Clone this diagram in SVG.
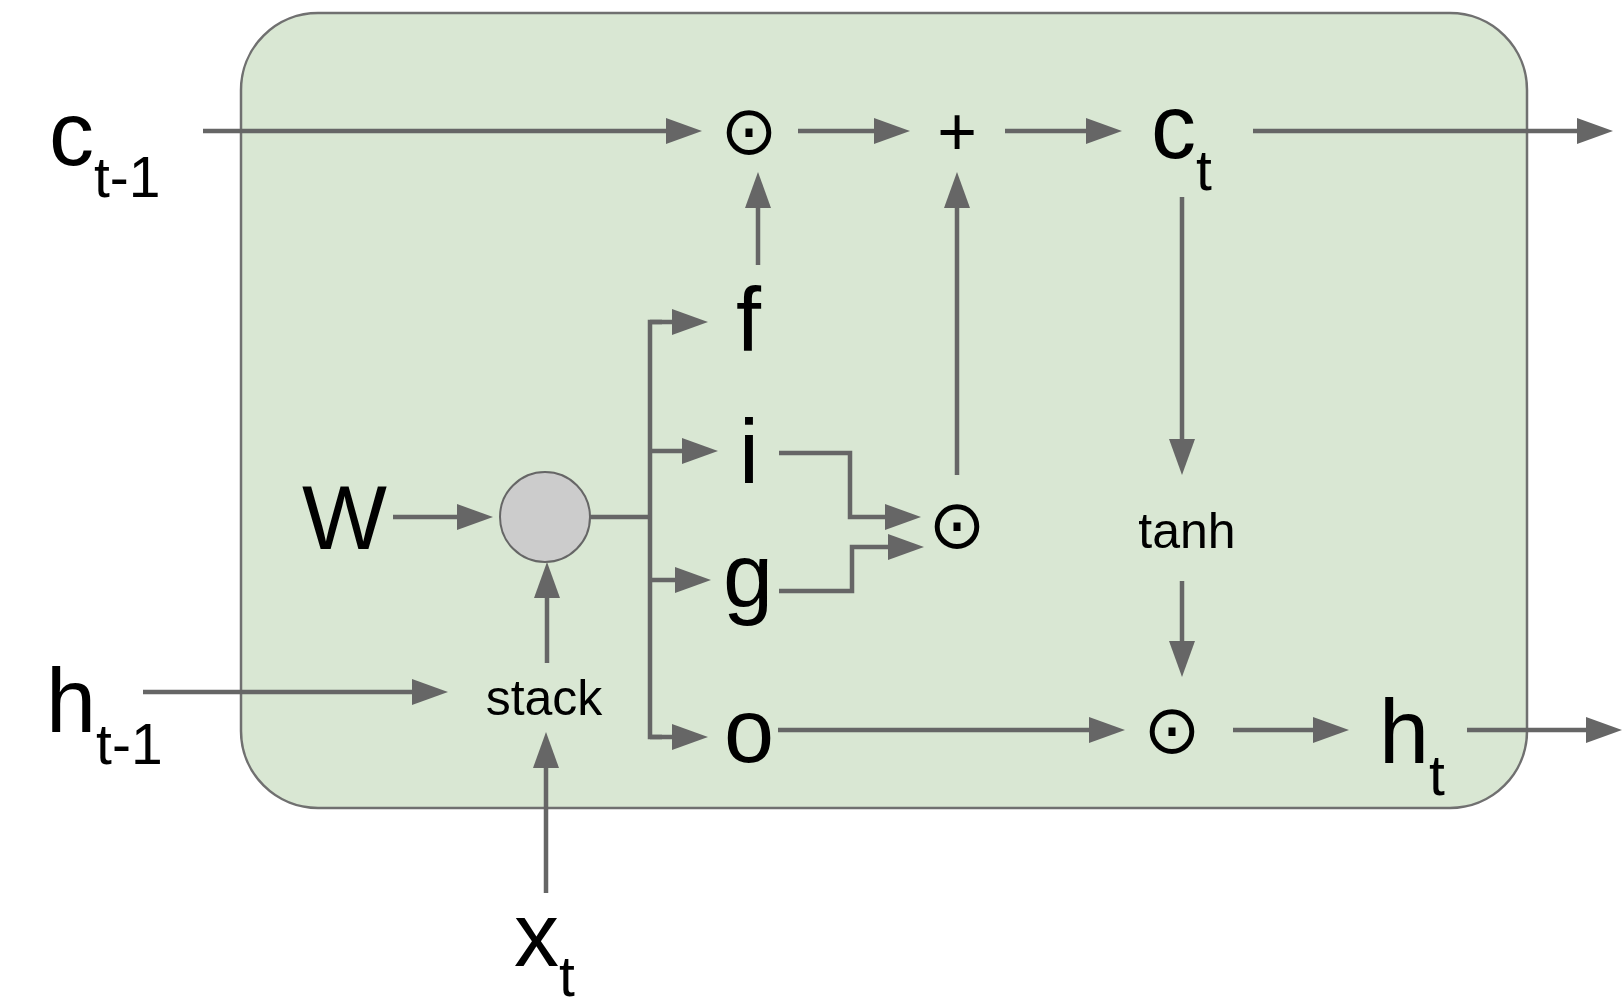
<svg xmlns="http://www.w3.org/2000/svg" width="1624" height="1000" viewBox="0 0 1624 1000">
<defs>
<marker id="ah" markerUnits="userSpaceOnUse" markerWidth="38" markerHeight="28" refX="15" refY="13" orient="auto">
<path d="M0,0 L36,13 L0,26 z" fill="#666666"/>
</marker>
<style>
.lbl{font-family:"Liberation Sans",Arial,sans-serif;font-size:90px;fill:#000}
.sub{font-size:57px}
.sm{font-family:"Liberation Sans",Arial,sans-serif;font-size:50px;fill:#000;text-anchor:middle}
.op{font-family:"DejaVu Sans",sans-serif;font-size:68px;fill:#000;text-anchor:middle}
.plus{font-family:"Liberation Sans",Arial,sans-serif;font-size:68px;fill:#000;text-anchor:middle}
.c{stroke:#666666;stroke-width:4.5;fill:none}
.a{marker-end:url(#ah)}
</style>
</defs>
<rect id="cell" x="241" y="13" width="1286" height="795" rx="77" ry="77" fill="#d9e7d3" stroke="#707070" stroke-width="2.5"/>
<g id="connectors">
<line class="c a" x1="203" y1="131" x2="681" y2="131"/>
<line class="c a" x1="798" y1="131" x2="889" y2="131"/>
<line class="c a" x1="1005" y1="131" x2="1101" y2="131"/>
<line class="c a" x1="1253" y1="131" x2="1592" y2="131"/>
<line class="c a" x1="758" y1="265" x2="758" y2="193"/>
<line class="c a" x1="957" y1="475" x2="957" y2="193"/>
<line class="c a" x1="1182" y1="197" x2="1182" y2="454"/>
<line class="c a" x1="1182" y1="581" x2="1182" y2="656"/>
<line class="c a" x1="778" y1="730" x2="1104" y2="730"/>
<line class="c a" x1="1233" y1="730" x2="1328" y2="730"/>
<line class="c a" x1="1467" y1="730" x2="1601" y2="730"/>
<line class="c a" x1="393" y1="517" x2="472" y2="517"/>
<line class="c a" x1="547" y1="663" x2="547" y2="583"/>
<line class="c a" x1="546" y1="893" x2="546" y2="753"/>
<line class="c a" x1="143" y1="692" x2="427" y2="692"/>
<path class="c" d="M590,517 H650"/>
<path class="c" d="M662,322 H650 V737 H662"/>
<line class="c a" x1="650" y1="322" x2="687" y2="322"/>
<line class="c a" x1="650" y1="451" x2="697" y2="451"/>
<line class="c a" x1="650" y1="580" x2="690" y2="580"/>
<line class="c a" x1="650" y1="737" x2="687" y2="737"/>
<path class="c a" d="M779,453 H850 V517 H900"/>
<path class="c a" d="M779,591 H852 V547 H903"/>
</g>
<g id="c_prev"><text class="lbl" x="49" y="165">c<tspan class="sub" dy="32">t-1</tspan></text></g>
<g id="h_prev"><text class="lbl" x="46" y="732">h<tspan class="sub" dy="32">t-1</tspan></text></g>
<g id="c_t"><text class="lbl" x="1151" y="158">c<tspan class="sub" dy="32">t</tspan></text></g>
<g id="h_t"><text class="lbl" x="1379" y="763">h<tspan class="sub" dy="32">t</tspan></text></g>
<g id="x_t"><text class="lbl" x="514" y="966">x<tspan class="sub" dy="30">t</tspan></text></g>
<g id="W"><text class="lbl" x="302" y="549">W</text></g>
<g id="matmul"><circle cx="545" cy="517" r="45" fill="#cccccc" stroke="#666666" stroke-width="2"/></g>
<g id="stack"><text class="sm" x="544" y="715">stack</text></g>
<g id="tanh"><text class="sm" x="1187" y="548">tanh</text></g>
<g id="f"><text class="lbl" x="736" y="351">f</text></g>
<g id="i"><text class="lbl" x="739" y="483">i</text></g>
<g id="g"><text class="lbl" x="723" y="607">g</text></g>
<g id="o"><text class="lbl" x="724" y="762">o</text></g>
<g id="mul1"><text class="op" x="749" y="154">⊙</text></g>
<g id="plus"><text class="plus" x="957" y="155">+</text></g>
<g id="mul2"><text class="op" x="957" y="548">⊙</text></g>
<g id="mul3"><text class="op" x="1172" y="753">⊙</text></g>
</svg>
